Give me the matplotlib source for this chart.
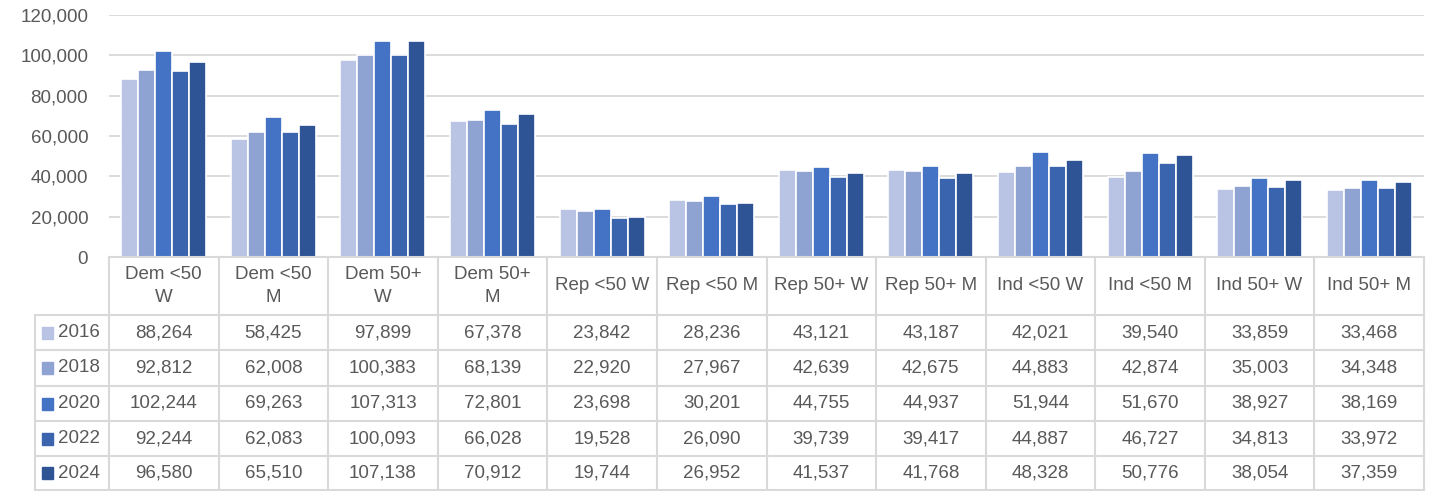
import matplotlib

matplotlib.use('Agg')

import matplotlib.pyplot as plt
from matplotlib.lines import Line2D
from matplotlib.patches import Rectangle

plt.rcParams['font.family'] = ['Liberation Sans', 'DejaVu Sans']

categories = ['Dem <50\nW', 'Dem <50\nM', 'Dem 50+\nW', 'Dem 50+\nM', 'Rep <50 W', 'Rep <50 M',
              'Rep 50+ W', 'Rep 50+ M', 'Ind <50 W', 'Ind <50 M', 'Ind 50+ W', 'Ind 50+ M']
years = ['2016', '2018', '2020', '2022', '2024']
v2016 = [88264, 58425, 97899, 67378, 23842, 28236, 43121, 43187, 42021, 39540, 33859, 33468]
v2018 = [92812, 62008, 100383, 68139, 22920, 27967, 42639, 42675, 44883, 42874, 35003, 34348]
v2020 = [102244, 69263, 107313, 72801, 23698, 30201, 44755, 44937, 51944, 51670, 38927, 38169]
v2022 = [92244, 62083, 100093, 66028, 19528, 26090, 39739, 39417, 44887, 46727, 34813, 33972]
v2024 = [96580, 65510, 107138, 70912, 19744, 26952, 41537, 41768, 48328, 50776, 38054, 37359]
series = [v2016, v2018, v2020, v2022, v2024]
colors = ['#B9C3E3', '#8FA3D3', '#4472C4', '#3A64AE', '#2F5496']

W, H = 1439, 491
txt = '#595959'
grid = '#D9D9D9'
fs = 13.5

fig = plt.figure(figsize=(W / 100, H / 100), dpi=100)

def fx(x):
    return x / W

def fy(y):
    return 1 - y / H

left, right, top, base = 109, 1424, 15, 257
ax = fig.add_axes([fx(left), fy(base), fx(right - left), (base - top) / H])
n = len(categories)
bw = 0.155
for i, vals in enumerate(series):
    xs = [k + (i - 2) * bw for k in range(n)]
    ax.bar(xs, vals, width=bw, color=colors[i], edgecolor='white', linewidth=1.2, zorder=3)
ax.set_xlim(-0.5, n - 0.5)
ax.set_ylim(0, 120000)
ax.set_yticks(range(0, 120001, 20000))
ax.set_yticklabels(['{:,}'.format(t) for t in range(0, 120001, 20000)], color=txt, fontsize=fs)
ax.yaxis.grid(True, color=grid, linewidth=1.3, zorder=0)
ax.tick_params(axis='y', length=0, pad=15)
ax.set_xticks([])
for s in ax.spines.values():
    s.set_visible(False)

# data table below the chart
colw = (right - left) / n
rows_y = [base, 315, 350, 386, 421, 456, 490]
lgd_left = 35

def hline(x0, x1, y):
    fig.add_artist(Line2D([fx(x0), fx(x1)], [fy(y), fy(y)], color=grid, linewidth=1.5))

def vline(x, y0, y1):
    fig.add_artist(Line2D([fx(x), fx(x)], [fy(y0), fy(y1)], color=grid, linewidth=1.5))

hline(left, right, rows_y[0])
for y in rows_y[1:]:
    hline(lgd_left, right, y)
vline(lgd_left, rows_y[1], rows_y[-1])
for k in range(n + 1):
    vline(left + k * colw, rows_y[0], rows_y[-1])

for k, c in enumerate(categories):
    cx = left + (k + 0.5) * colw
    fig.text(fx(cx), fy((rows_y[0] + rows_y[1]) / 2), c, ha='center', va='center',
             color=txt, fontsize=fs, linespacing=1.5)

for i, vals in enumerate(series):
    cy = (rows_y[i + 1] + rows_y[i + 2]) / 2
    fig.add_artist(Rectangle((fx(42), fy(cy + 6)), fx(11), 12 / H, color=colors[i]))
    fig.text(fx(58), fy(cy), years[i], ha='left', va='center', color=txt, fontsize=fs)
    for k, v in enumerate(vals):
        cx = left + (k + 0.5) * colw
        fig.text(fx(cx), fy(cy), '{:,}'.format(v), ha='center', va='center', color=txt, fontsize=fs)

fig.savefig('out.png', dpi=100)
